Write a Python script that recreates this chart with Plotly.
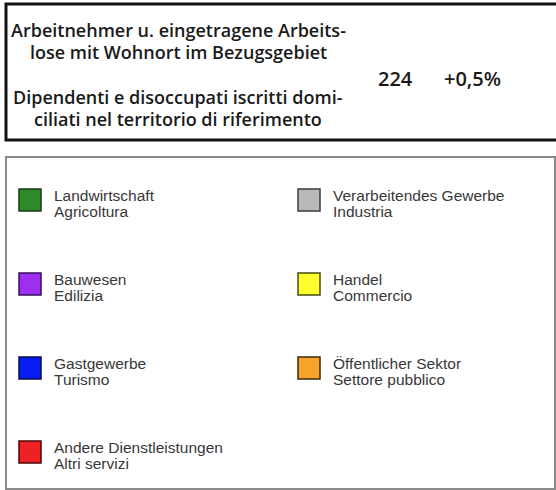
import plotly.graph_objects as go

# header block
title_de = ['Arbeitnehmer u. eingetragene Arbeits-', 'lose mit Wohnort im Bezugsgebiet']
title_it = ['Dipendenti e disoccupati iscritti domi-', 'ciliati nel territorio di riferimento']
total_value = '224'
total_change = '+0,5%'

# legend entries (sectors)
sector_de = ['Landwirtschaft', 'Verarbeitendes Gewerbe', 'Bauwesen', 'Handel',
             'Gastgewerbe', 'Öffentlicher Sektor', 'Andere Dienstleistungen']
sector_it = ['Agricoltura', 'Industria', 'Edilizia', 'Commercio',
             'Turismo', 'Settore pubblico', 'Altri servizi']
sector_colors = ['#2f8a2c', '#b9b9b9', '#9f2ff0', '#ffff2e',
                 '#0a1cf5', '#f6a42c', '#ee2222']
sector_edges = ['#143d12', '#3c3c3c', '#3a0f5a', '#4a4a10',
                '#05104a', '#3d2a08', '#4a0808']

W, H = 556, 490
COL_X = [30, 309]      # swatch centres
ROW_Y0, ROW_DY = 200, 84
TEXT_DX = 22

fig = go.Figure()

xs = [COL_X[i % 2] for i in range(len(sector_de))]
ys = [ROW_Y0 + ROW_DY * (i // 2) for i in range(len(sector_de))]
fig.add_trace(go.Scatter(
    x=xs, y=ys, mode='markers',
    marker=dict(symbol='square', size=22, color=sector_colors,
                line=dict(color=sector_edges, width=1.5)),
    hoverinfo='skip', showlegend=False,
))

leg_font = dict(family='Liberation Sans, Arial', size=15.5, color='#383838')
for x, y, de, it in zip(xs, ys, sector_de, sector_it):
    for k, txt in enumerate([de, it]):
        fig.add_annotation(
            x=x + TEXT_DX, y=y - 5 + 16.5 * k, text=txt, showarrow=False,
            xanchor='left', yanchor='middle', font=leg_font,
        )

# header text
head_font = dict(family='Open Sans', size=18, color='#1a1a1a', weight=600)
for k, txt in enumerate(title_de):
    fig.add_annotation(x=178, y=30 + 22 * k, text=txt, showarrow=False,
                       xanchor='center', yanchor='middle', font=head_font)
for k, txt in enumerate(title_it):
    fig.add_annotation(x=178, y=97 + 22 * k, text=txt, showarrow=False,
                       xanchor='center', yanchor='middle', font=head_font)

num_font = dict(family='Open Sans', size=20, color='#1a1a1a', weight=600)
fig.add_annotation(x=395, y=78, text=total_value, showarrow=False,
                   xanchor='center', yanchor='middle', font=num_font)
fig.add_annotation(x=472, y=78, text=total_change, showarrow=False,
                   xanchor='center', yanchor='middle', font=num_font)

# frames
fig.add_shape(type='rect', x0=6, y0=4, x1=562, y1=140,
              line=dict(color='#111111', width=3))
fig.add_shape(type='rect', x0=6, y0=157, x1=555, y1=489,
              line=dict(color='#8a8a8a', width=2))

fig.update_xaxes(range=[0, W], visible=False)
fig.update_yaxes(range=[H, 0], visible=False)
fig.update_layout(
    width=W, height=H,
    margin=dict(l=0, r=0, t=0, b=0),
    plot_bgcolor='white', paper_bgcolor='white',
)

fig.write_html('out.html', config={'displayModeBar': False},
               post_script="document.body.style.margin='0';document.body.style.overflow='hidden';")
